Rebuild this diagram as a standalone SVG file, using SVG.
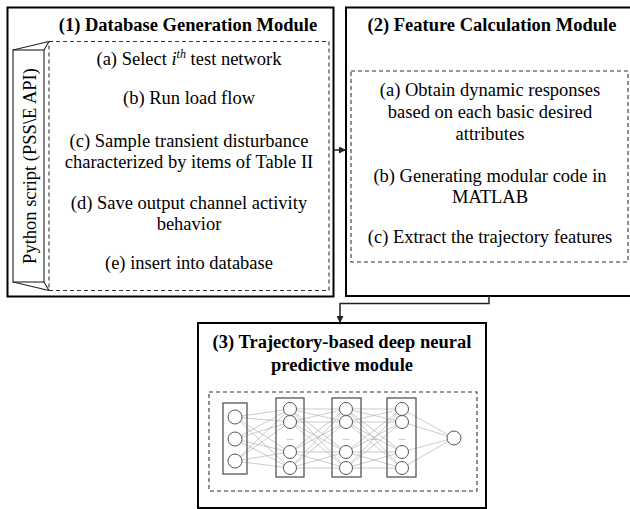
<svg xmlns="http://www.w3.org/2000/svg" width="630" height="509" viewBox="0 0 630 509">
<style>
text{font-family:"Liberation Serif","Times New Roman",serif;fill:#000;}
.title{font-size:18.5px;font-weight:bold;text-anchor:middle;}
.body{font-size:18.5px;text-anchor:middle;}
.box{fill:#fff;stroke:#000;stroke-width:2;}
.dash{fill:none;stroke:#333;stroke-width:1.1;stroke-dasharray:4,3;}
.conn{fill:none;stroke:#222;stroke-width:1.5;}
.layer{fill:none;stroke:#555;stroke-width:1.3;}
.neuron{fill:#fff;stroke:#555;stroke-width:1;}
.syn{fill:none;stroke:#aaa;stroke-width:0.6;}
.dots{font-family:"Liberation Sans",Arial,sans-serif;font-size:8px;fill:#555;text-anchor:middle;}
</style>
<defs>
<marker id="arr" viewBox="0 0 10 10" refX="10" refY="5" markerWidth="7" markerHeight="7" markerUnits="userSpaceOnUse" orient="auto">
<path d="M0 0L10 5L0 10z" fill="#222"/>
</marker>
</defs>

<g id="module1">
<rect class="box" x="7.5" y="7.5" width="326" height="289"/>
<text class="title" x="188" y="31">(1) Database Generation Module</text>
<rect class="dash" x="49" y="41.5" width="280" height="249"/>
<g id="python-script">
<rect x="13" y="50" width="31" height="232" fill="#fff" stroke="#222" stroke-width="1.1"/>
<path d="M13 50L49 41.5M44 50L49 41.5M13 282L49 290.5M44 282L49 290.5" fill="none" stroke="#222" stroke-width="1.1"/>
<text class="body" transform="translate(36 166) rotate(-90)" x="0" y="0">Python script (PSS\E API)</text>
</g>
<text class="body" x="189" y="65">(a) Select <tspan font-style="italic">i</tspan><tspan font-style="italic" font-size="12" dy="-7">th</tspan><tspan dy="7"> test network</tspan></text>
<text class="body" x="189" y="104">(b) Run load flow</text>
<text class="body" x="189" y="147">(c) Sample transient disturbance</text>
<text class="body" x="189" y="168">characterized by items of Table II</text>
<text class="body" x="189" y="209">(d) Save output channel activity</text>
<text class="body" x="189" y="230">behavior</text>
<text class="body" x="189" y="269">(e) insert into database</text>
</g>

<g id="module2">
<rect class="box" x="346" y="7.5" width="290" height="288.5"/>
<text class="title" x="492" y="31">(2) Feature Calculation Module</text>
<rect class="dash" x="351" y="71" width="277" height="191"/>
<text class="body" x="490" y="96">(a) Obtain dynamic responses</text>
<text class="body" x="490" y="118">based on each basic desired</text>
<text class="body" x="490" y="140">attributes</text>
<text class="body" x="490" y="182">(b) Generating modular code in</text>
<text class="body" x="490" y="203">MATLAB</text>
<text class="body" x="490" y="243">(c) Extract the trajectory features</text>
</g>

<g id="module3">
<rect class="box" x="198" y="323" width="288" height="185"/>
<text class="title" x="342" y="348">(3) Trajectory-based deep neural</text>
<text class="title" x="342" y="371">predictive module</text>
<rect class="dash" x="209" y="392" width="268" height="99"/>
<g id="network">
<path class="syn" d="M235 417L290 409M235 417L290 422M235 417L290 452M235 417L290 468M235 439L290 409M235 439L290 422M235 439L290 452M235 439L290 468M235 461L290 409M235 461L290 422M235 461L290 452M235 461L290 468"/>
<path class="syn" d="M290 409L346 409M290 409L346 422M290 409L346 452M290 409L346 468M290 422L346 409M290 422L346 422M290 422L346 452M290 422L346 468M290 452L346 409M290 452L346 422M290 452L346 452M290 452L346 468M290 468L346 409M290 468L346 422M290 468L346 452M290 468L346 468"/>
<path class="syn" d="M346 409L402 409M346 409L402 422M346 409L402 452M346 409L402 468M346 422L402 409M346 422L402 422M346 422L402 452M346 422L402 468M346 452L402 409M346 452L402 422M346 452L402 452M346 452L402 468M346 468L402 409M346 468L402 422M346 468L402 452M346 468L402 468"/>
<path class="syn" d="M402 409L454 438M402 422L454 438M402 452L454 438M402 468L454 438"/>
<rect class="layer" x="223" y="403" width="24" height="71"/>
<rect class="layer" x="276" y="398" width="28" height="79"/>
<rect class="layer" x="332" y="398" width="29" height="79"/>
<rect class="layer" x="387" y="398" width="29" height="79"/>
<circle class="neuron" cx="235" cy="417" r="7"/>
<circle class="neuron" cx="235" cy="439" r="7"/>
<circle class="neuron" cx="235" cy="461" r="7"/>
<circle class="neuron" cx="290" cy="409" r="6.5"/>
<circle class="neuron" cx="290" cy="422" r="6.5"/>
<circle class="neuron" cx="290" cy="452" r="6.5"/>
<circle class="neuron" cx="290" cy="468" r="6.5"/>
<circle class="neuron" cx="346" cy="409" r="6.5"/>
<circle class="neuron" cx="346" cy="422" r="6.5"/>
<circle class="neuron" cx="346" cy="452" r="6.5"/>
<circle class="neuron" cx="346" cy="468" r="6.5"/>
<circle class="neuron" cx="402" cy="409" r="6.5"/>
<circle class="neuron" cx="402" cy="422" r="6.5"/>
<circle class="neuron" cx="402" cy="452" r="6.5"/>
<circle class="neuron" cx="402" cy="468" r="6.5"/>
<circle class="neuron" cx="454" cy="438" r="7"/>
<text class="dots" x="290" y="440">...</text>
<text class="dots" x="346" y="440">...</text>
<text class="dots" x="402" y="440">...</text>
<text class="dots" x="374" y="440">...</text>
</g>
</g>

<g id="connectors">
<path class="conn" d="M333.5 150H346" marker-end="url(#arr)"/>
<path class="conn" d="M489 296V303.5H340V323" marker-end="url(#arr)"/>
</g>
</svg>
